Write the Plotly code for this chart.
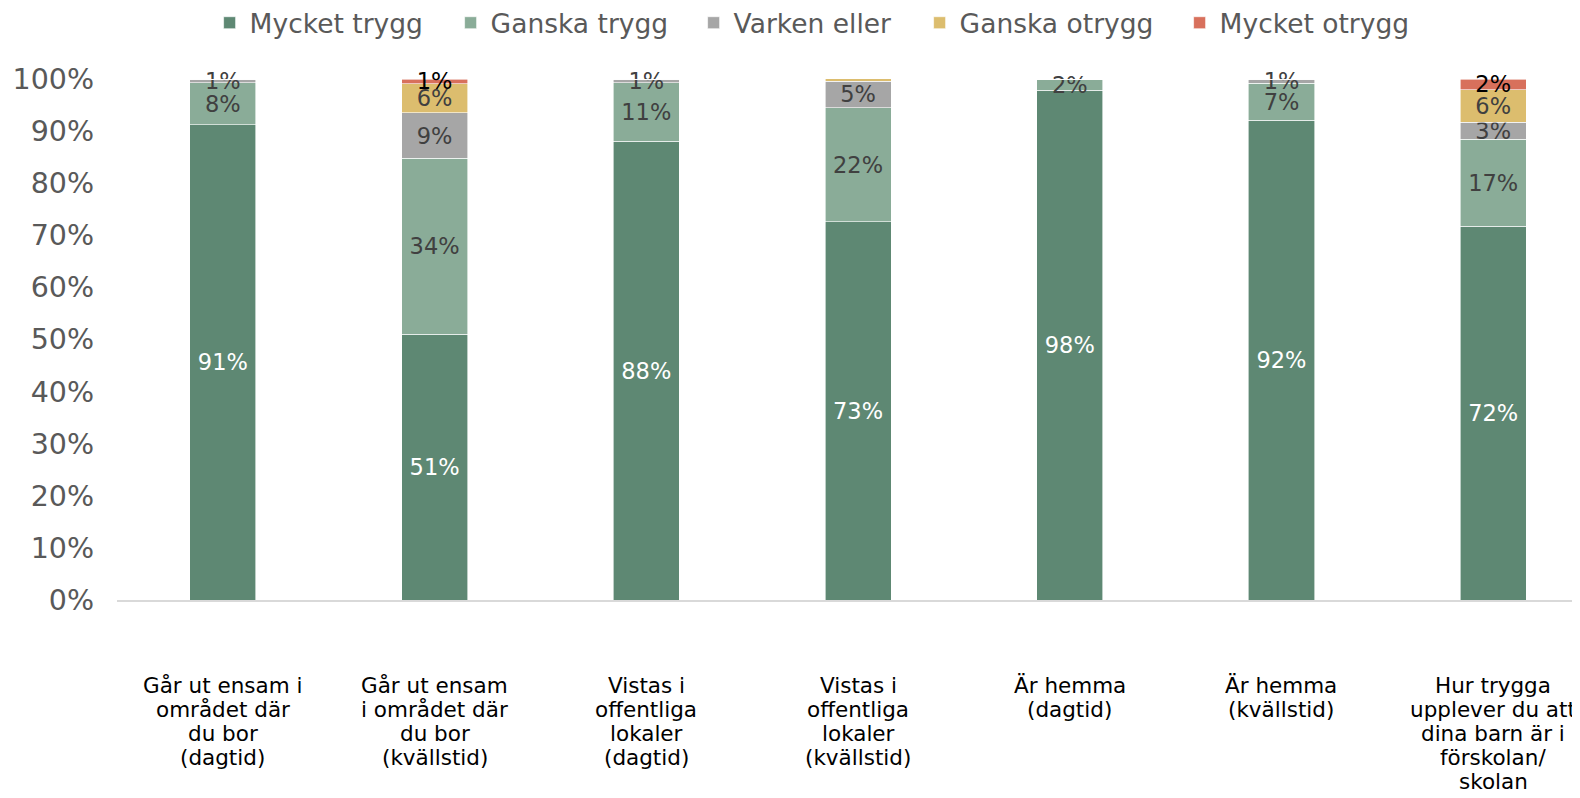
import plotly.graph_objects as go

category_lines = [
    ["Går ut ensam i", "området där", "du bor", "(dagtid)"],
    ["Går ut ensam", "i området där", "du bor", "(kvällstid)"],
    ["Vistas i", "offentliga", "lokaler", "(dagtid)"],
    ["Vistas i", "offentliga", "lokaler", "(kvällstid)"],
    ["Är hemma", "(dagtid)"],
    ["Är hemma", "(kvällstid)"],
    ["Hur trygga", "upplever du att", "dina barn är i", "förskolan/", "skolan"],
]

series_names = ["Mycket trygg", "Ganska trygg", "Varken eller", "Ganska otrygg", "Mycket otrygg"]
mycket_trygg = [0.912, 0.510, 0.881, 0.726, 0.978, 0.921, 0.717]
ganska_trygg = [0.081, 0.338, 0.112, 0.219, 0.022, 0.071, 0.167]
varken_eller = [0.007, 0.087, 0.007, 0.051, 0.0, 0.008, 0.033]
ganska_otrygg = [0.0, 0.056, 0.0, 0.0045, 0.0, 0.0, 0.062]
mycket_otrygg = [0.0, 0.009, 0.0, 0.0, 0.0, 0.0, 0.021]

series_values = [mycket_trygg, ganska_trygg, varken_eller, ganska_otrygg, mycket_otrygg]
colors = ["#5E8873", "#8AAC98", "#A6A6A6", "#DCBD6E", "#D8705C"]
label_colors = ["#FFFFFF", "#404040", "#404040", "#404040", "#000000"]
legend_widths = [196, 198, 181, 215, 200]

FONT = "DejaVu Sans, Verdana, sans-serif"
xs = list(range(len(category_lines)))

fig = go.Figure()
for name, vals, col, lcol, lw in zip(series_names, series_values, colors, label_colors, legend_widths):
    texts = [f"{round(v * 100)}%" if round(v * 100) >= 1 else "" for v in vals]
    fig.add_trace(go.Bar(
        name=name,
        x=xs,
        y=vals,
        marker=dict(color=col, line=dict(color="white", width=0.6)),
        text=texts,
        textposition="inside",
        insidetextanchor="middle",
        textangle=0,
        insidetextfont=dict(family=FONT, size=22.5, color=lcol),
        cliponaxis=False,
        hoverinfo="skip",
        legendwidth=lw,
    ))

# category labels (tight line spacing like the reference)
annotations = []
for i, lines in enumerate(category_lines):
    for k, line in enumerate(lines):
        annotations.append(dict(
            x=i, y=0, xref="x", yref="y",
            text=line, showarrow=False,
            xanchor="center", yanchor="middle",
            yshift=-(85 + 24 * k),
            font=dict(family=FONT, size=21.5, color="#000000"),
        ))

fig.update_layout(
    barmode="stack",
    bargap=0.688,
    width=1572,
    height=790,
    margin=dict(l=109, r=0, t=71, b=198, autoexpand=False),
    plot_bgcolor="white",
    paper_bgcolor="white",
    font=dict(family=FONT, color="#595959"),
    uniformtext=dict(minsize=22.5, mode="show"),
    showlegend=True,
    legend=dict(
        orientation="h",
        x=0.0633,
        xanchor="left",
        y=1.1075,
        yanchor="middle",
        font=dict(family=FONT, size=26.5, color="#595959"),
        entrywidthmode="pixels",
        traceorder="normal",
        bgcolor="rgba(0,0,0,0)",
    ),
    annotations=annotations,
    xaxis=dict(
        tickmode="array",
        tickvals=xs,
        showticklabels=False,
        range=[-0.5, 6.41],
        showline=True,
        linecolor="#D9D9D9",
        linewidth=1.5,
        showgrid=False,
        zeroline=False,
        ticks="",
        automargin=False,
        fixedrange=True,
    ),
    yaxis=dict(
        range=[0, 1],
        tickmode="array",
        tickvals=[i / 10 for i in range(11)],
        ticktext=[f"{i * 10}%" for i in range(11)],
        showgrid=False,
        zeroline=False,
        showline=False,
        ticks="",
        ticklabelstandoff=22,
        tickfont=dict(family=FONT, size=28.5, color="#595959"),
        automargin=False,
        fixedrange=True,
    ),
)

fig.write_html("out.html")
